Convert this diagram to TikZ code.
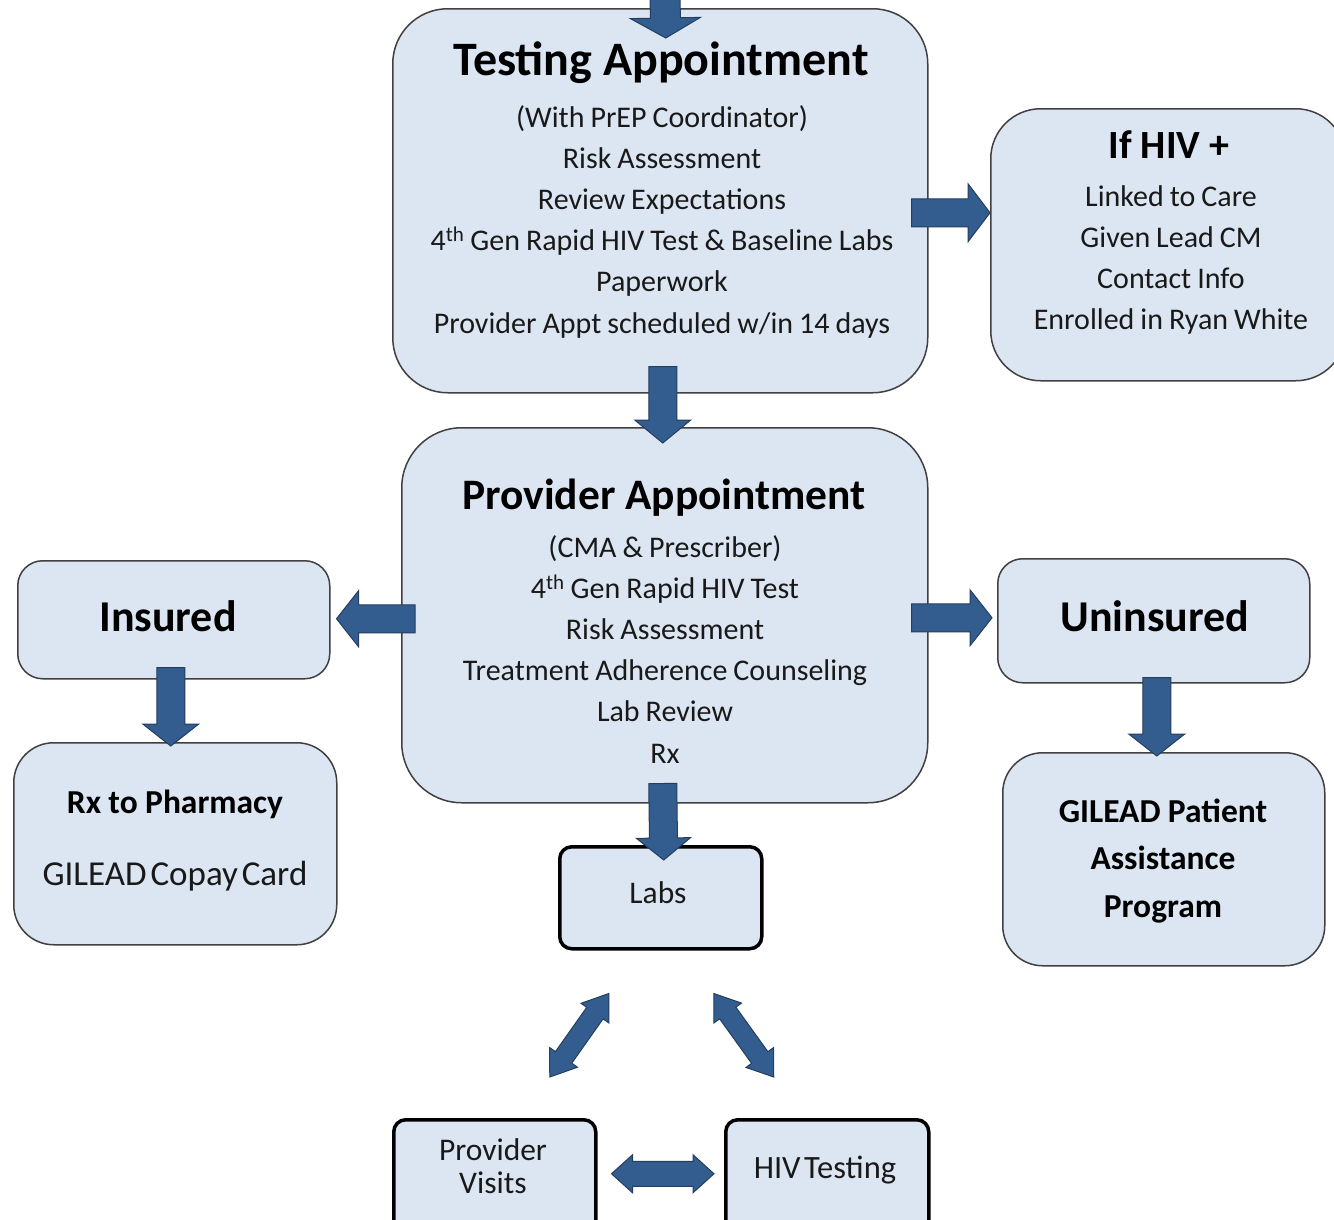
\documentclass[tikz,border=0pt]{standalone}
\usepackage{fontspec}
\setmainfont{Carlito}
\usetikzlibrary{calc}
\definecolor{boxfill}{RGB}{220,230,242}
\definecolor{boxdraw}{RGB}{64,64,64}
\definecolor{arrfill}{RGB}{52,93,143}
\definecolor{arrdraw}{RGB}{36,62,96}
\definecolor{txt}{RGB}{25,25,25}
\newcommand\spA{\spaceskip=0.2em\relax}
\newcommand\spB{\spaceskip=0.22em\relax}
\newcommand\spC{\spaceskip=0.11em\relax}
\tikzset{
  box/.style={draw=boxdraw, fill=boxfill, line width=1.5pt, anchor=north west, inner sep=0pt},
  darkbox/.style={draw=black, fill=boxfill, line width=3.5pt, rounded corners=12pt, anchor=north west, inner sep=0pt},
  barrow/.style={fill=arrfill, draw=arrdraw, line width=1pt, line join=miter},
  ttl/.style={anchor=base, inner sep=0pt, text=black, font=\fontsize{45}{54}\selectfont\bfseries},
  body/.style={anchor=base, text width=600pt, align=center, inner sep=0pt, text=txt, font=\fontsize{30}{41.2}\selectfont},
  bigbold/.style={anchor=base, inner sep=0pt, text=black, font=\fontsize{44}{52}\selectfont\bfseries},
  midbold/.style={anchor=base, text width=400pt, align=center, inner sep=0pt, text=black, font=\fontsize{33.5}{47.5}\selectfont\bfseries},
  midtext/.style={anchor=base, text width=400pt, align=center, inner sep=0pt, text=txt, font=\fontsize{35}{40}\selectfont},
  smalltext/.style={anchor=base, text width=300pt, align=center, inner sep=0pt, text=txt, font=\fontsize{31.5}{33.5}\selectfont},
}
% #1 start, #2 end, #3 shaft half width, #4 head half width, #5 head length
\newcommand\myarrow[5]{%
  \path[barrow] let \p1=#1, \p2=#2, \n1={atan2(\y2-\y1,\x2-\x1)} in
    ($(\p1)+(\n1+90:#3)$) -- ($(\p2)+(\n1+180:#5)+(\n1+90:#3)$)
    -- ($(\p2)+(\n1+180:#5)+(\n1+90:#4)$) -- (\p2)
    -- ($(\p2)+(\n1+180:#5)+(\n1-90:#4)$) -- ($(\p2)+(\n1+180:#5)+(\n1-90:#3)$)
    -- ($(\p1)+(\n1-90:#3)$) -- cycle;}
\newcommand\mydblarrow[5]{%
  \path[barrow] let \p1=#1, \p2=#2, \n1={atan2(\y2-\y1,\x2-\x1)} in
    (\p1) -- ($(\p1)+(\n1:#5)+(\n1+90:#4)$) -- ($(\p1)+(\n1:#5)+(\n1+90:#3)$)
    -- ($(\p2)+(\n1+180:#5)+(\n1+90:#3)$) -- ($(\p2)+(\n1+180:#5)+(\n1+90:#4)$)
    -- (\p2) -- ($(\p2)+(\n1+180:#5)+(\n1-90:#4)$) -- ($(\p2)+(\n1+180:#5)+(\n1-90:#3)$)
    -- ($(\p1)+(\n1:#5)+(\n1-90:#3)$) -- ($(\p1)+(\n1:#5)+(\n1-90:#4)$) -- cycle;}
\begin{document}
\begin{tikzpicture}[x=1pt,y=-1pt]
\useasboundingbox (0,0) rectangle (1334,1219);
\fill[white] (0,0) rectangle (1334,1219);

% boxes
\node[box, rounded corners=55pt, minimum width=535pt, minimum height=384pt] (test) at (392,8) {};
\node[box, rounded corners=50pt, minimum width=355pt, minimum height=272pt] (hiv) at (990,108) {};
\node[box, rounded corners=60pt, minimum width=526pt, minimum height=375pt] (prov) at (401,427) {};
\node[box, rounded corners=25pt, minimum width=312pt, minimum height=118pt] (ins) at (17,560) {};
\node[box, rounded corners=40pt, minimum width=323pt, minimum height=202pt] (rx) at (13,742) {};
\node[box, rounded corners=25pt, minimum width=312pt, minimum height=124pt] (unins) at (997,558) {};
\node[box, rounded corners=40pt, minimum width=322pt, minimum height=213pt] (gil) at (1002,752) {};
\node[darkbox, minimum width=202pt, minimum height=102pt] (labs) at (558,845) {};
\node[darkbox, minimum width=202pt, minimum height=117pt] (pv) at (392,1118) {};
\node[darkbox, minimum width=203pt, minimum height=117pt] (hivt) at (724,1118) {};

% texts
\node[ttl, font=\fontsize{48}{56}\selectfont\bfseries] (testT) at (661,75) {Testing Appointment};
\node[body] (testB) at (662,127) {\spA (With PrEP Coordinator)\\Risk Assessment\\Review Expectations\\4\textsuperscript{th} Gen Rapid HIV Test \& Baseline Labs\\Paperwork\\Provider Appt scheduled w/in 14 days};
\node[ttl, font=\fontsize{40}{48}\selectfont\bfseries] (hivT) at (1169,158) {If HIV +};
\node[body] (hivB) at (1171,206) {\spA Linked to Care\\Given Lead CM\\Contact Info\\Enrolled in Ryan White};
\node[ttl, font=\fontsize{43.5}{52}\selectfont\bfseries] (provT) at (664,509) {Provider Appointment};
\node[body] (provB) at (665,557) {\spA (CMA \& Prescriber)\\4\textsuperscript{th} Gen Rapid HIV Test\\Risk Assessment\\Treatment Adherence Counseling\\Lab Review\\Rx};
\node[bigbold] (insT) at (168,631) {Insured};
\node[midbold] (rxT) at (175,813) {\spB Rx to Pharmacy};
\node[midtext] (rxB) at (175,885) {\spC GILEAD Copay Card};
\node[bigbold] (uninsT) at (1155,631) {Uninsured};
\node[midbold] (gilT) at (1163,822) {\spB GILEAD Patient\\Assistance\\Program};
\node[smalltext] (labsT) at (658,903) {Labs};
\node[smalltext] (pvT) at (493,1160) {Provider\\Visits};
\node[smalltext, font=\fontsize{32.5}{34}\selectfont] (hivtT) at (825,1178) {\spC HIV Testing};

% connectors
\coordinate (entry) at (665,-5);
\myarrow{(entry)}{($(test.north)+(5.5,30)$)}{15pt}{35pt}{20pt}
\myarrow{($(test.south)+(2.5,-27)$)}{($(prov.north)+(-2,16)$)}{14pt}{28pt}{23pt}
\myarrow{($(test.east)+(-17,12)$)}{($(hiv.west)+(0,-32)$)}{14pt}{29pt}{22pt}
\myarrow{($(prov.west)+(14,3.5)$)}{($(ins.east)+(6,-1)$)}{14pt}{28pt}{22pt}
\myarrow{($(prov.east)+(-17,2.5)$)}{($(unins.west)+(-5,-3)$)}{14pt}{28pt}{22pt}
\myarrow{($(prov.south)+(-2,-20)$)}{($(labs.north)+(3,15)$)}{14pt}{27pt}{22pt}
\myarrow{($(ins.south)+(-3,-12)$)}{($(rx.north)+(-4.5,4)$)}{14pt}{28pt}{22pt}
\myarrow{($(unins.south)+(3,-6)$)}{($(gil.north)+(-7,4)$)}{14pt}{28pt}{22pt}
\mydblarrow{($(pv.north)+(55,-41)$)}{($(labs.south)+(-52,43)$)}{10pt}{17pt}{24pt}
\mydblarrow{($(labs.south)+(53,43)$)}{($(hivt.north)+(-53.5,-41)$)}{10pt}{17pt}{24pt}
\mydblarrow{($(pv.east)+(14,-4.5)$)}{($(hivt.west)+(-10,-4.5)$)}{12.5pt}{19pt}{21pt}
\end{tikzpicture}
\end{document}
